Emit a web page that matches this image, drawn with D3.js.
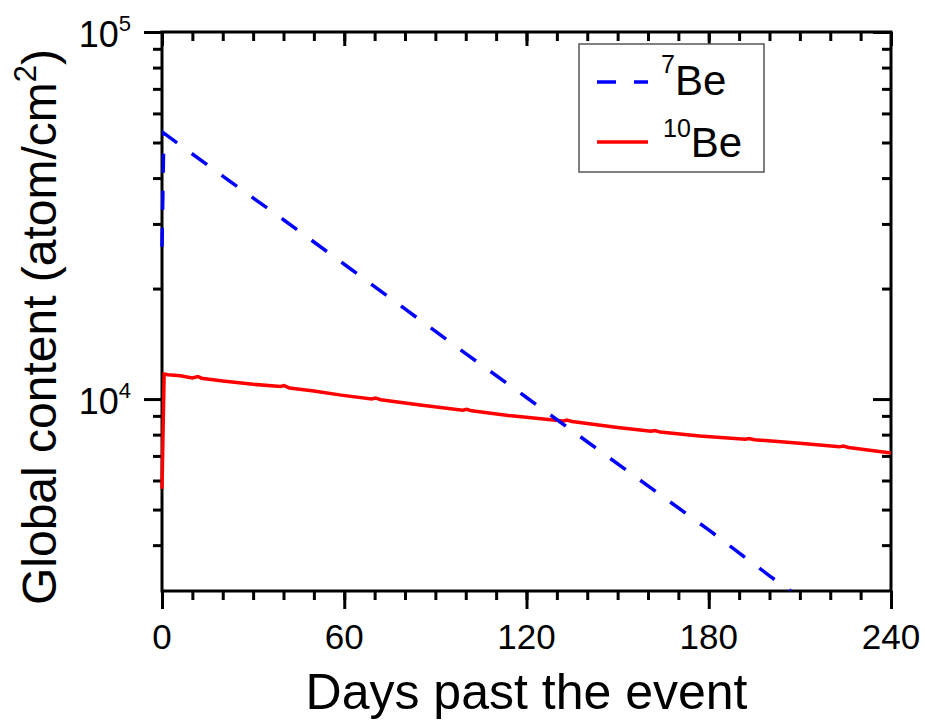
<!DOCTYPE html>
<html>
<head>
<meta charset="utf-8">
<script src="https://cdn.jsdelivr.net/npm/d3@7"></script>
<style>
  body { margin: 0; background: #fff; }
  text { font-family: "Liberation Sans", Arial, sans-serif; fill: #000; }
</style>
</head>
<body>
<div id="chart"></div>
<script>
// 7Be (blue dashed) readings
var be7Days   = [0, 0.6, 20, 40, 60, 80, 100, 120, 140, 160, 180, 200, 207];
var be7Values = [26000, 53000, 40500, 30800, 23300, 17600, 13300, 10100, 7650, 5800, 4400, 3300, 3000];

// 10Be (red solid) readings
var be10Days   = [0, 0.7, 2, 6, 10, 11.8, 13, 20, 30, 39, 40.2, 42, 50, 59, 69, 70.3, 72, 85, 99, 100.3, 102, 115, 132, 133.3, 135, 150, 161, 162.3, 164, 177, 192, 193.3, 195, 210, 223, 224.3, 226, 240];
var be10Values = [5700, 11700, 11650, 11580, 11420, 11520, 11400, 11200, 10970, 10820, 10880, 10720, 10520, 10250, 10010, 10070, 9960, 9640, 9330, 9380, 9290, 9000, 8710, 8760, 8690, 8370, 8170, 8210, 8130, 7930, 7770, 7810, 7750, 7585, 7410, 7450, 7380, 7130];

var xTicks = [0, 60, 120, 180, 240];
var xMinor = d3.range(0, 241, 10);
var yMajor = [1e4, 1e5];
var yMinor = [4000, 5000, 6000, 7000, 8000, 9000, 20000, 30000, 40000, 50000, 60000, 70000, 80000, 90000];

var margin = { top: 32, right: 34, bottom: 129, left: 162 };
var W = 925, H = 720;
var width = W - margin.left - margin.right,
    height = H - margin.top - margin.bottom;

var svg = d3.select("#chart").append("svg")
    .attr("width", W)
    .attr("height", H);

var g = svg.append("g")
    .attr("transform", "translate(" + margin.left + "," + margin.top + ")");

var x = d3.scaleLinear().domain([0, 240]).range([0, width]);
var y = d3.scaleLog().domain([3000, 1e5]).range([height, 0]);

g.append("defs").append("clipPath")
    .attr("id", "clip")
    .append("rect")
    .attr("x", -4)
    .attr("width", width + 8)
    .attr("height", height);

// axes
function styleAxis(sel) {
    sel.select(".domain").remove();
    sel.selectAll(".tick line").attr("stroke", "#000").attr("stroke-width", 3);
    sel.selectAll(".tick text").remove();
}

// bottom (outward)
g.append("g").attr("transform", "translate(0," + height + ")")
    .call(d3.axisBottom(x).tickValues(xMinor).tickSize(9)).call(styleAxis);
g.append("g").attr("transform", "translate(0," + height + ")")
    .call(d3.axisBottom(x).tickValues(xTicks).tickSize(18)).call(styleAxis);
// top (inward)
g.append("g")
    .call(d3.axisTop(x).tickValues(xMinor).tickSize(-9)).call(styleAxis);
g.append("g")
    .call(d3.axisTop(x).tickValues(xTicks).tickSize(-14)).call(styleAxis);
// left (outward)
g.append("g")
    .call(d3.axisLeft(y).tickValues(yMinor).tickSize(9)).call(styleAxis);
g.append("g")
    .call(d3.axisLeft(y).tickValues(yMajor).tickSize(18)).call(styleAxis);
// right (inward)
g.append("g").attr("transform", "translate(" + width + ",0)")
    .call(d3.axisRight(y).tickValues(yMinor).tickSize(-9)).call(styleAxis);
g.append("g").attr("transform", "translate(" + width + ",0)")
    .call(d3.axisRight(y).tickValues(yMajor).tickSize(-18)).call(styleAxis);

// frame
g.append("rect")
    .attr("width", width)
    .attr("height", height)
    .attr("fill", "none")
    .attr("stroke", "#000")
    .attr("stroke-width", 3);

// data lines (drawn over the frame)
var line = d3.line()
    .x(function (d) { return x(d[0]); })
    .y(function (d) { return y(d[1]); });

var be7 = be7Days.map(function (d, i) { return [d, be7Values[i]]; });
var be10 = be10Days.map(function (d, i) { return [d, be10Values[i]]; });

g.append("path")
    .attr("clip-path", "url(#clip)")
    .attr("d", line(be10))
    .attr("fill", "none")
    .attr("stroke", "#ff0000")
    .attr("stroke-width", 3.5);

g.append("path")
    .attr("clip-path", "url(#clip)")
    .attr("d", line(be7))
    .attr("fill", "none")
    .attr("stroke", "#0000ff")
    .attr("stroke-width", 3.5)
    .attr("stroke-dasharray", "19,18");

// x tick labels
g.selectAll(".xlab")
    .data(xTicks)
    .enter().append("text")
    .attr("class", "xlab")
    .attr("x", function (d) { return x(d); })
    .attr("y", height + 58)
    .attr("text-anchor", "middle")
    .style("font-size", "35px")
    .text(function (d) { return d; });

// y tick labels, 10^n
var ylab = g.selectAll(".ylab")
    .data(yMajor)
    .enter().append("text")
    .attr("class", "ylab")
    .attr("x", -31)
    .attr("y", function (d) { return y(d) + 15; })
    .attr("text-anchor", "end");
ylab.append("tspan").style("font-size", "36px").text("10");
ylab.append("tspan").style("font-size", "22px").attr("dy", -16)
    .text(function (d) { return Math.round(Math.log10(d)); });

// axis titles
svg.append("text")
    .attr("x", margin.left + width / 2)
    .attr("y", 709)
    .attr("text-anchor", "middle")
    .style("font-size", "50px")
    .text("Days past the event");

var yt = svg.append("text")
    .attr("transform", "translate(56," + 327 + ") rotate(-90)")
    .attr("text-anchor", "middle")
    .style("font-size", "48px");
yt.append("tspan").text("Global content (atom/cm");
yt.append("tspan").style("font-size", "31px").attr("dy", -20).text("2");
yt.append("tspan").attr("dy", 20).text(")");

// legend
var lg = svg.append("g");
lg.append("rect")
    .attr("x", 579).attr("y", 44)
    .attr("width", 185).attr("height", 128)
    .attr("fill", "#fff")
    .attr("stroke", "#555")
    .attr("stroke-width", 1.5);

lg.append("line")
    .attr("x1", 597).attr("x2", 648).attr("y1", 82).attr("y2", 82)
    .attr("stroke", "#0000ff").attr("stroke-width", 3.5)
    .attr("stroke-dasharray", "19,18");
lg.append("line")
    .attr("x1", 597).attr("x2", 648).attr("y1", 142).attr("y2", 142)
    .attr("stroke", "#ff0000").attr("stroke-width", 3.5);

var t1 = lg.append("text").attr("x", 661).attr("y", 95);
t1.append("tspan").style("font-size", "25px").attr("dy", -22).text("7");
t1.append("tspan").style("font-size", "42px").attr("dy", 22).text("Be");

var t2 = lg.append("text").attr("x", 663).attr("y", 157);
t2.append("tspan").style("font-size", "25px").attr("dy", -20).text("10");
t2.append("tspan").style("font-size", "42px").attr("dy", 20).text("Be");
</script>
</body>
</html>
